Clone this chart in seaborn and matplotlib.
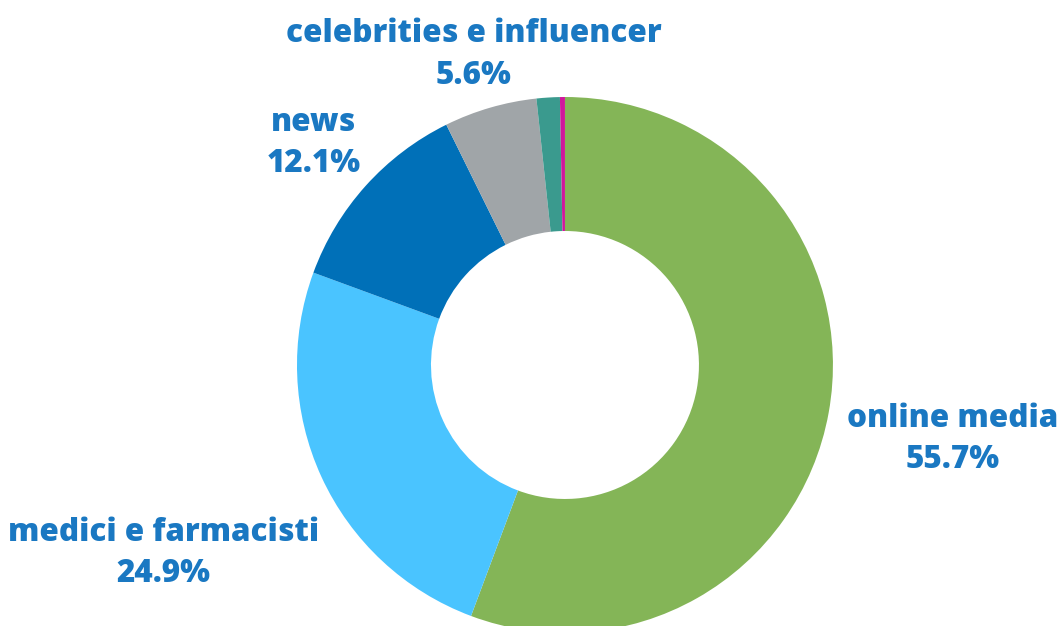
import numpy as np
import matplotlib
matplotlib.use("Agg")
import matplotlib.pyplot as plt
import seaborn as sns

# Sources of information, share of responses (%)
categories = ["online media", "medici e farmacisti", "news",
              "celebrities e influencer", "altro", "n.d."]
shares = [55.7, 24.9, 12.1, 5.6, 1.4, 0.3]
show_label = [True, True, True, True, False, False]

colors = ["#84b557", "#4ac4ff", "#0070b8", "#a0a5a8", "#3a9a8e", "#d0179b"]
label_color = "#1a78c2"
# radial distance of each label (in pie radii)
label_dist = [1.47, 1.65, 1.26, 1.22, 1.2, 1.2]

sns.set_theme(style="white")
plt.rcParams["font.family"] = ["Open Sans", "DejaVu Sans"]

fig = plt.figure(figsize=(10.64, 6.26), dpi=100)
ax = fig.add_axes([0, 0, 1, 1])

wedges, _ = ax.pie(shares, colors=colors, startangle=90, counterclock=False,
                   radius=1.0, wedgeprops=dict(width=0.5, linewidth=0))

for w, name, val, show, d in zip(wedges, categories, shares, show_label, label_dist):
    if not show:
        continue
    ang = np.deg2rad((w.theta1 + w.theta2) / 2)
    x, y = d * np.cos(ang), d * np.sin(ang) - 0.015
    ax.text(x, y, f"{name}\n{val:.1f}%", ha="center", va="center",
            fontsize=22.6, fontweight="heavy", color=label_color,
            linespacing=1.38)

ax.set_xlim(-2.108, 1.862)
ax.set_ylim(-0.974, 1.362)
ax.set_aspect("equal")
ax.axis("off")

fig.savefig("out.png", dpi=100, facecolor="white")
